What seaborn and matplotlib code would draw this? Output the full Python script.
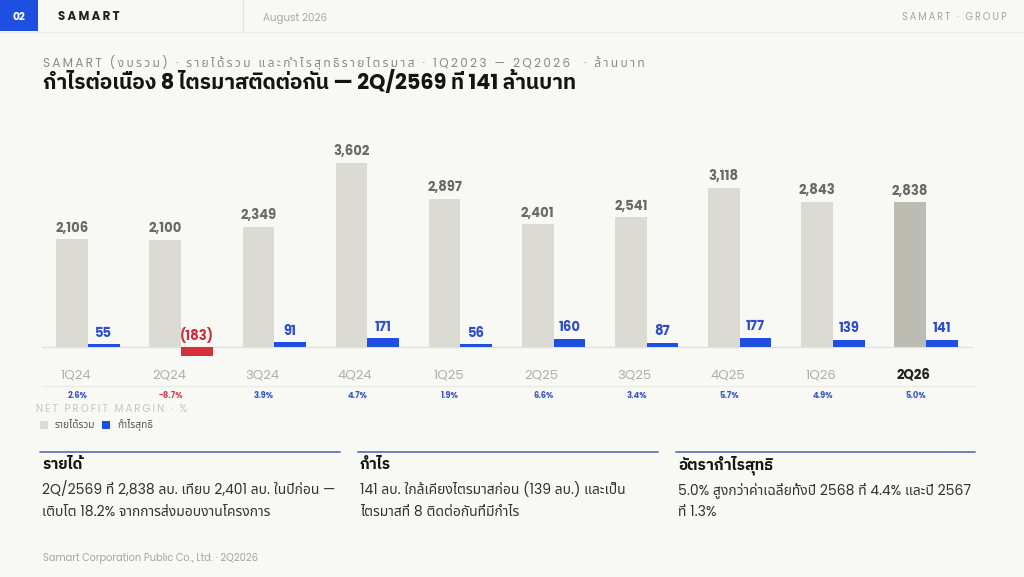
import matplotlib
matplotlib.use("Agg")
import matplotlib.pyplot as plt
import seaborn as sns
import pandas as pd
from matplotlib.patches import Rectangle
from matplotlib.lines import Line2D
import matplotlib.transforms as mtrans

# ---------------- data ----------------
quarters = ["1Q24", "2Q24", "3Q24", "4Q24", "1Q25", "2Q25", "3Q25", "4Q25", "1Q26", "2Q26"]
revenue = [2106, 2100, 2349, 3602, 2897, 2401, 2541, 3118, 2843, 2838]
profit = [55, -183, 91, 171, 56, 160, 87, 177, 139, 141]
margin = [2.6, -8.7, 3.9, 4.7, 1.9, 6.6, 3.4, 5.7, 4.9, 5.0]
series_names = ["รายได้รวม", "กำไรสุทธิ"]

title = "กำไรต่อเนื่อง 8 ไตรมาสติดต่อกัน — 2Q/2569 ที่ 141 ล้านบาท"
subtitle = "SAMART (งบรวม) · รายได้รวม และกำไรสุทธิรายไตรมาส · 1Q2023 — 2Q2026  · ล้านบาท"
panel_heads = ["รายได้", "กำไร", "อัตรากำไรสุทธิ"]
panel_bodies = [
    ["2Q/2569 ที่ 2,838 ลบ. เทียบ 2,401 ลบ. ในปีก่อน —", "เติบโต 18.2% จากการส่งมอบงานโครงการ"],
    ["141 ลบ. ใกล้เคียงไตรมาสก่อน (139 ลบ.) และเป็น", "ไตรมาสที่ 8 ติดต่อกันที่มีกำไร"],
    ["5.0% สูงกว่าค่าเฉลี่ยทั้งปี 2568 ที่ 4.4% และปี 2567", "ที่ 1.3%"],
]
footer = "Samart Corporation Public Co., Ltd. · 2Q2026"

# ---------------- style ----------------
BG = "#F8F8F4"
REV = "#DCDBD3"
REV_HL = "#BDBCB3"
BLUE = "#1F4FE0"
RED = "#D62F3D"
sns.set_theme(style="white")
FAM = ["Poppins", "IBM Plex Sans Thai", "DejaVu Sans"]
FAM_BODY = ["Poppins", "Noto Sans Thai", "IBM Plex Sans Thai", "DejaVu Sans"]
plt.rcParams["font.family"] = FAM
plt.rcParams["axes.unicode_minus"] = False

W, H = 1024, 577
fig = plt.figure(figsize=(W / 100, H / 100), dpi=100, facecolor=BG)


def P(x, y):
    return (x / W, 1 - y / H)


COMB = set(chr(c) for c in [0x0E31] + list(range(0x0E34, 0x0E3B)) + list(range(0x0E47, 0x0E4F)))


def spaced(s, sp="\u200a"):
    out = ""
    for i, ch in enumerate(s):
        if i > 0 and ch not in COMB:
            out += sp
        out += ch
    return out


def ftext(x, y, s, **kw):
    kw.setdefault("va", "center")
    return fig.text(*P(x, y), s, **kw)


def hline(x0, x1, y, color, lw=1.0):
    fig.add_artist(Line2D([x0 / W, x1 / W], [1 - y / H, 1 - y / H], color=color, lw=lw,
                          transform=fig.transFigure))


# ---------------- header ----------------
fig.add_artist(Rectangle(P(0, 31), 38 / W, 31 / H, transform=fig.transFigure,
                         facecolor=BLUE, edgecolor="none"))
ftext(19, 17, "02", color="white", fontsize=7.5, fontweight="bold", ha="center")
ftext(58, 17, spaced("SAMART", "\u200a\u200a"), color="#222222", fontsize=8.5, fontweight="bold")
fig.add_artist(Line2D([243 / W, 243 / W], [1, 1 - 31 / H], color="#E6E6E0", lw=0.8,
                      transform=fig.transFigure))
ftext(263, 18, "August 2026", color="#A8A8A2", fontsize=7.4)
ftext(1007, 18, spaced("SAMART · GROUP", "\u2009"), color="#A4A4A0", fontsize=7.0, ha="right")
hline(0, W, 31.5, "#ECECE6", 1.0)

# ---------------- titles ----------------
ftext(43, 62, spaced(subtitle, "\u2009"), color="#8A8A86", fontsize=8.6, family=FAM_BODY)
ftext(43, 83, title, color="#141414", fontsize=15, fontweight="bold")

# ---------------- chart ----------------
ax_left, ax_right = 41.5, 972.5
ax_top, ax_bot = 140, 365
ax = fig.add_axes([ax_left / W, 1 - ax_bot / H, (ax_right - ax_left) / W, (ax_bot - ax_top) / H])
ax.set_facecolor("none")

df = pd.DataFrame({
    "quarter": quarters * 2,
    "series": [series_names[0]] * len(quarters) + [series_names[1]] * len(quarters),
    "value": revenue + profit,
})
sns.barplot(data=df, x="quarter", y="value", hue="series", order=quarters, hue_order=series_names,
            palette=[REV, BLUE], width=0.68, saturation=1, legend=False, ax=ax, errorbar=None)

scale = 0.0511  # px per unit
ymin = -(ax_bot - 347) / scale
ymax = ((ax_bot - ax_top) - (ax_bot - 347)) / scale
ax.set_ylim(ymin, ymax)
ax.set_xlim(-0.5, len(quarters) - 0.5)
for sp in ax.spines.values():
    sp.set_visible(False)
ax.set_xticks([])
ax.set_yticks([])
ax.set_xlabel("")
ax.set_ylabel("")
ax.axhline(0, color="#E2E2DC", lw=1.0, zorder=0)

rev_bars, prof_bars = ax.containers[0], ax.containers[1]
for i, b in enumerate(rev_bars):
    b.set_edgecolor("none")
    if i == len(quarters) - 1:
        b.set_facecolor(REV_HL)
    cx = b.get_x() + b.get_width() / 2
    ax.annotate(f"{revenue[i]:,}", (cx, revenue[i]), xytext=(0, 2.5), textcoords="offset points",
                ha="center", va="bottom", fontsize=9.5, fontweight="bold", color="#6B6B66")
for i, b in enumerate(prof_bars):
    b.set_edgecolor("none")
    v = profit[i]
    neg = v < 0
    if neg:
        b.set_facecolor(RED)
    cx = b.get_x() + b.get_width() / 2
    lab = f"({abs(v):,})" if neg else f"{v:,}"
    ax.annotate(lab, (cx, max(v, 0)), xytext=(0, 2.5), textcoords="offset points",
                ha="center", va="bottom", fontsize=9.5, fontweight="bold",
                color="#C8313F" if neg else "#2F4FC8")

# x labels & margins
tr = mtrans.blended_transform_factory(ax.transData, fig.transFigure)
for i, q in enumerate(quarters):
    last = i == len(quarters) - 1
    ax.text(i - 0.13, 1 - 376 / H, q, transform=tr, ha="center", va="center", fontsize=9.5,
            fontweight="bold" if last else "normal", color="#222222" if last else "#B0AFA8")
    m = margin[i]
    ax.text(i - 0.11, 1 - 396 / H, f"{m:.1f}%", transform=tr,
            ha="center", va="center", fontsize=6, fontweight="bold",
            color="#D04552" if m < 0 else "#3A58C8")
hline(42, 975, 386, "#ECECE6", 1.0)

ftext(36, 409, spaced("NET PROFIT MARGIN · %", "\u2009"), color="#C6C6C0", fontsize=7.4)

# legend
fig.add_artist(Rectangle(P(40, 429), 8 / W, 8 / H, transform=fig.transFigure, facecolor=REV, edgecolor="none"))
ftext(55, 425, series_names[0], color="#555555", fontsize=7.3, family=FAM_BODY)
fig.add_artist(Rectangle(P(102, 429), 8 / W, 8 / H, transform=fig.transFigure, facecolor=BLUE, edgecolor="none"))
ftext(117, 425, series_names[1], color="#555555", fontsize=7.3, family=FAM_BODY)

# ---------------- bottom panels ----------------
cols = [(40, 340), (358, 658), (676, 975)]
for (x0, x1), head, body in zip(cols, panel_heads, panel_bodies):
    hline(x0, x1, 452, "#6276BE", 1.3)
    ftext(x0 + 2, 465, head, color="#151515", fontsize=11, fontweight="bold")
    for j, line in enumerate(body):
        ftext(x0 + 2, 490 + 22 * j, line, color="#333333", fontsize=10, family=FAM_BODY)

ftext(43, 558, footer, color="#A6A6A0", fontsize=7.1)

fig.savefig("out.png", dpi=100, facecolor=BG)
